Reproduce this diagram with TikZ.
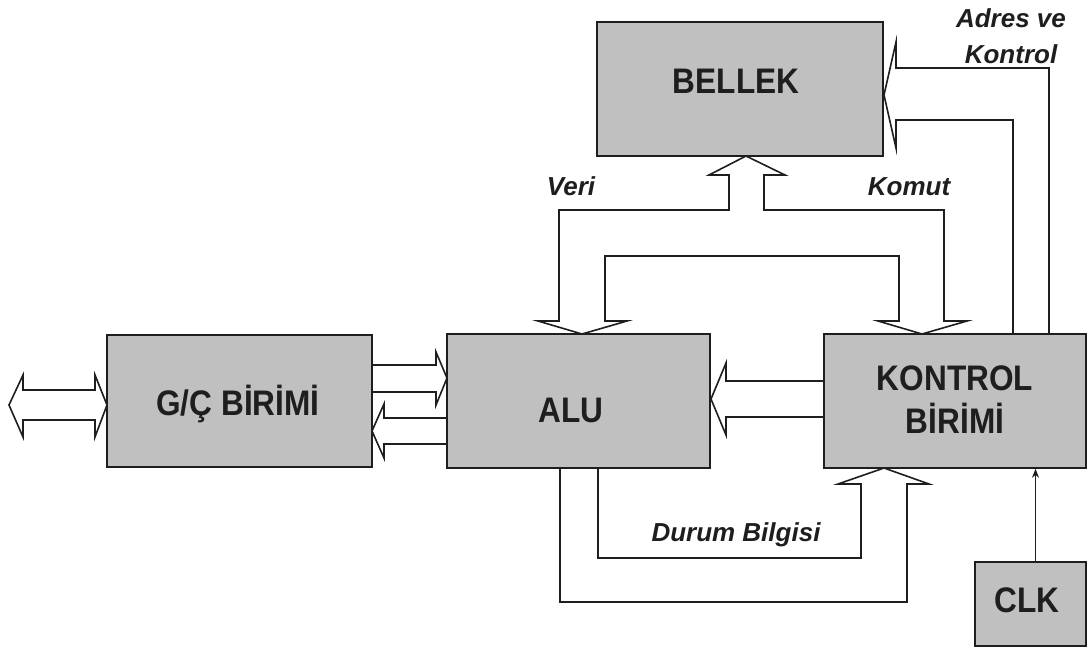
\documentclass[tikz,border=0pt]{standalone}
\usepackage{fontspec}
\setmainfont{Liberation Sans}
\usetikzlibrary{arrows.meta}
\newcommand{\narrowtxt}[1]{\scalebox{0.89}[1]{#1}}
\definecolor{boxgray}{RGB}{192,192,192}
\definecolor{ink}{RGB}{30,30,30}
\begin{document}
\begin{tikzpicture}[x=1pt,y=-1pt,
  box/.style={draw=ink, line width=1.6pt, fill=boxgray, inner sep=0pt},
  bigtext/.style={font=\bfseries\fontsize{35.5}{40}\selectfont, anchor=base, inner sep=0pt, text=ink},
  lbl/.style={font=\bfseries\itshape\fontsize{26}{30}\selectfont, anchor=base, inner sep=0pt, text=ink},
  bus/.style={draw=ink, line width=1.6pt, line join=miter, miter limit=20},
  clkline/.style={draw=ink, line width=1.3pt, -{Stealth[length=9pt,width=7pt]}}
]
\useasboundingbox (0,0) rectangle (1090,649);

% hollow bus arrows
% external double arrow of G/C unit
\draw[bus] (9,405) -- (23,375) -- (23,390) -- (95,390) -- (95,375) -- (107,405)
  -- (95,437) -- (95,420) -- (23,420) -- (23,437) -- cycle;
% G/C -> ALU
\draw[bus] (372,365) -- (436,365) -- (436,352) -- (447,378) -- (436,405) -- (436,392) -- (372,392);
% ALU -> G/C
\draw[bus] (447,418) -- (384,418) -- (384,404) -- (372,431) -- (384,458) -- (384,444) -- (447,444);
% KONTROL -> ALU
\draw[bus] (824,381) -- (726,381) -- (726,363) -- (711,399) -- (726,435) -- (726,417) -- (824,417);
% Veri / Komut bus
\draw[bus] (582,334) -- (538,321) -- (559,321) -- (559,210) -- (729,210) -- (729,175)
  -- (709,175) -- (746,156) -- (785,175) -- (764,175) -- (764,210) -- (944,210)
  -- (944,321) -- (967,321) -- (922,334) -- (878,321) -- (899,321) -- (899,256)
  -- (605,256) -- (605,321) -- (627,321) -- cycle;
% Adres ve Kontrol
\draw[bus] (1013,334) -- (1013,120) -- (896,120) -- (896,148) -- (884,95) -- (896,42)
  -- (896,68) -- (1049,68) -- (1049,334);
% Durum Bilgisi
\draw[bus] (598,468) -- (598,558) -- (861,558) -- (861,484) -- (838,484) -- (884,468)
  -- (929,484) -- (907,484) -- (907,602) -- (560,602) -- (560,468);

% boxes
\node[box, minimum width=286pt, minimum height=134pt] (bel) at (740,89) {};
\node[box, minimum width=265pt, minimum height=132pt] (gc)  at (239.5,401) {};
\node[box, minimum width=263pt, minimum height=134pt] (alu) at (578.5,401) {};
\node[box, minimum width=262pt, minimum height=134pt] (kon) at (955,401) {};
\node[box, minimum width=111pt, minimum height=84pt]  (clk) at (1030.5,604) {};

% box texts
\node[bigtext] (belT) at (736,93)  {\narrowtxt{BELLEK}};
\node[bigtext] (gcT)  at (238,415) {\narrowtxt{G/Ç BİRİMİ}};
\node[bigtext] (aluT) at (571,422) {\narrowtxt{ALU}};
\node[bigtext] (konT) at (955,390) {\narrowtxt{KONTROL}};
\node[bigtext] (konT2) at (955,433) {\narrowtxt{BİRİMİ}};
\node[bigtext] (clkT) at (1027,612) {\narrowtxt{CLK}};

% clock connector
\draw[clkline] ([xshift=5pt]clk.north) -- ([xshift=5pt]clk.north |- kon.south);

% labels
\node[lbl] (veri)  at (571,195) {Veri};
\node[lbl] (komut) at (909,195) {Komut};
\node[lbl] (adres) at (1011,27) {Adres ve};
\node[lbl] (kontr) at (1011,63) {Kontrol};
\node[lbl] (durum) at (736,541) {Durum Bilgisi};
\end{tikzpicture}
\end{document}
